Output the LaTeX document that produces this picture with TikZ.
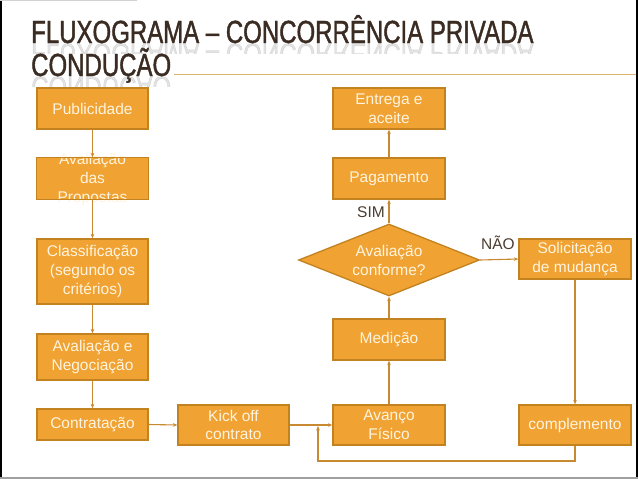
\documentclass[tikz,border=0pt]{standalone}
\usepackage{graphicx}
\usepackage{fontspec}
\setmainfont{Liberation Sans}
\newfontfamily\titlefont[FakeStretch=0.75,FakeBold=1.3]{Liberation Sans}
\usetikzlibrary{shapes.geometric,arrows.meta}
\definecolor{boxfill}{HTML}{F0A232}
\definecolor{boxline}{HTML}{C2821F}
\definecolor{conn}{HTML}{C88A30}
\definecolor{boxtxt}{HTML}{FFF4E0}
\definecolor{titlecol}{HTML}{3A2C22}
\definecolor{rulecol}{HTML}{D8B46A}
\definecolor{lblcol}{HTML}{4A3C30}
\begin{document}
\begin{tikzpicture}[x=1pt,y=-1pt,
  box/.style={rectangle, fill=boxfill, draw=boxline, line width=1.3pt, inner sep=0pt,
    align=center, text=boxtxt, font=\fontsize{15.5}{18.7}\selectfont,
    minimum width=111pt, minimum height=41pt},
  boxfillonly/.style={box, draw=none},
  boxtext/.style={inner sep=0pt, align=center, text=boxtxt, font=\fontsize{15.5}{18.7}\selectfont},
  decision/.style={diamond, fill=boxfill, draw=boxline, line width=1.3pt, inner sep=0pt,
    minimum width=181pt, minimum height=72pt},
  arr/.style={draw=conn, line width=1.1pt, -{Stealth[length=4.5pt,width=3.6pt]}},
  lbl/.style={inner sep=0pt, text=lblcol, font=\fontsize{15.5}{18.7}\selectfont},
  titletext/.style={inner sep=0pt, anchor=base west, text=titlecol, font=\titlefont\fontsize{32}{32}\selectfont},
  reflect/.style={titletext, text=gray, opacity=0.22}
]
\useasboundingbox (0,0) rectangle (638,479);
\fill[white] (0,0) rectangle (638,479);

% slide frame
\fill[black] (0,0) rectangle (2.2,479);
\fill[black] (635.5,0) rectangle (638,479);
\fill[gray!75] (0,477) rectangle (638,479);
\fill[gray!35] (0,0) rectangle (137,1.3);

% title
\node[titletext] (t1) at (31,43) {FLUXOGRAMA – CONCORRÊNCIA PRIVADA};
\node[titletext] (t2) at (31,76) {CONDUÇÃO};
\begin{scope}
  \clip (0,43.5) rectangle (638,53);
  \node[reflect] (r1) at (31,43.5) {\scalebox{1}[-1]{FLUXOGRAMA – CONCORRÊNCIA PRIVADA}};
\end{scope}
\begin{scope}
  \clip (0,76.5) rectangle (638,86);
  \node[reflect] (r2) at (31,76.5) {\scalebox{1}[-1]{CONDUÇÃO}};
\end{scope}
\draw[rulecol, line width=1pt] (174,74.5) -- (635.5,74.5);

% left column
\node[box] (pub) at (92.5,108.5) {Publicidade};
\node[boxfillonly] (aval) at (92.5,178.5) {};
\node[boxtext] (avaltxt) at (92.5,179.5) {Avaliação\\das\\Propostas};
\draw[boxline, line width=1.3pt] (aval.south west) rectangle (aval.north east);
\node[box, minimum height=65pt] (class) at (92.5,271.5) {Classificação\\(segundo os\\critérios)};
\node[box, minimum height=46pt] (neg) at (92.5,357) {Avaliação e\\Negociação};
\node[box, minimum height=31pt] (contr) at (92.5,424.5) {Contratação};

% bottom row
\node[box, minimum height=40pt] (kick) at (233.5,425) {Kick off\\contrato};
\node[box, minimum width=112pt, minimum height=40pt] (avanco) at (389,425) {Avanço\\Físico};
\node[box, minimum width=112pt, minimum height=40pt] (comp) at (575,425) {complemento};

% middle column
\node[box, minimum width=112pt] (med) at (389,339.5) {Medição};
\node[decision] (dia) at (389,260) {};
\node[boxtext] (diatxt) at (389,260.5) {Avaliação\\conforme?};
\node[box, minimum width=112pt] (pag) at (389,178.5) {Pagamento};
\node[box, minimum width=112pt] (ent) at (389,108.5) {Entrega e\\aceite};

% right column
\node[box, minimum width=112pt, minimum height=40pt] (sol) at (575,259) {Solicitação\\de mudança};

% labels
\node[lbl] (sim) at (371,212) {SIM};
\node[lbl] (nao) at (498,243) {NÃO};

% connectors
\draw[arr] (pub.south) -- (aval.north);
\draw[arr] (aval.south) -- (class.north);
\draw[arr] (class.south) -- (neg.north);
\draw[arr] (neg.south) -- (contr.north);
\draw[arr] (contr.east) -- (kick.west);
\draw[arr] (kick.east) -- (avanco.west);
\draw[arr] (avanco.north) -- (med.south);
\draw[arr] (med.north) -- (dia.south);
\draw[arr] (dia.north) -- (pag.south);
\draw[arr] (pag.north) -- (ent.south);
\draw[arr] (dia.east) -- (sol.west);
\draw[arr] (sol.south) -- (comp.north);
\coordinate (loopb) at (318,461);
\coordinate (loopj) at (318,426);
\draw[arr] (comp.south) |- (loopb) -- (loopj);
\end{tikzpicture}
\end{document}
